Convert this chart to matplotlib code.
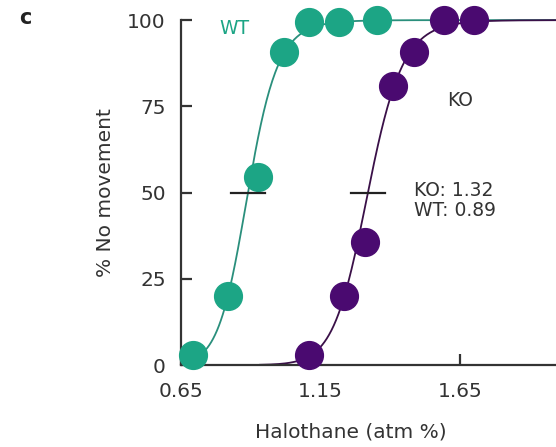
import numpy as np
import matplotlib
matplotlib.use("Agg")
import matplotlib.pyplot as plt

plt.rcParams['font.family'] = ['DejaVu Sans']

# Halothane concentration (atm %) and % of animals with no movement
wt_dose = [0.693, 0.818, 0.925, 1.02, 1.11, 1.218, 1.354]
wt_resp = [3, 20, 54.6, 90.8, 99.5, 99.5, 100]
ko_dose = [1.11, 1.236, 1.31, 1.41, 1.486, 1.593, 1.70]
ko_resp = [3, 20, 35.8, 81, 90.8, 100, 100]

# EC50 values and Hill slopes of the fitted curves
wt_ec50, ko_ec50 = 0.89, 1.32
wt_hill, ko_hill = 16.5, 21.0

x_ticks = [0.65, 1.15, 1.65]
y_ticks = [0, 25, 50, 75, 100]

wt_point = '#1ca585'
wt_line = '#2a8f7c'
ko_point = '#4a0a70'
ko_line = '#3a1048'
text_col = '#333333'
FS = 14.5


def hill(x, ec50, n):
    return 100.0 / (1.0 + (ec50 / x) ** n)


fig = plt.figure(figsize=(5.56, 4.47), dpi=100)
ax = fig.add_axes([0.3255, 0.1834, 1 - 0.3255, 0.955 - 0.1834])
xmax = 0.65 + (556 - 181) / 279
ax.set_xlim(0.65, xmax)
ax.set_ylim(0, 100)

xw = np.linspace(0.68, xmax + 0.05, 400)
xk = np.linspace(0.933, xmax + 0.05, 400)
ax.plot(xw, hill(xw, wt_ec50, wt_hill), color=wt_line, lw=1.3, clip_on=False, zorder=2)
ax.plot(xk, hill(xk, ko_ec50, ko_hill), color=ko_line, lw=1.3, clip_on=False, zorder=2)

ax.plot(wt_dose, wt_resp, 'o', ms=20, color=wt_point, mec=wt_point, clip_on=False, zorder=3)
ax.plot(ko_dose, ko_resp, 'o', ms=20, color=ko_point, mec=ko_point, clip_on=False, zorder=3)

# EC50 markers at 50 %
for ec in (wt_ec50, ko_ec50):
    ax.plot([ec - 0.06, ec + 0.06], [50, 50], color='#222222', lw=1.6, zorder=4)

ax.spines['top'].set_visible(False)
ax.spines['right'].set_visible(False)
for s in ('left', 'bottom'):
    ax.spines[s].set_linewidth(1.6)
    ax.spines[s].set_color('#333333')

ax.set_xticks(x_ticks)
ax.set_xticklabels([f'{t:.2f}' for t in x_ticks])
ax.set_yticks(y_ticks)
ax.tick_params(direction='in', length=8, width=1.6, colors='#333333',
               labelsize=FS, labelcolor=text_col)
ax.tick_params(axis='x', pad=12)
ax.tick_params(axis='y', pad=11)

ax.set_xlabel('Halothane (atm %)', fontsize=FS, color=text_col)
ax.xaxis.set_label_coords(0.453, -0.168)
ax.set_ylabel('% No movement', fontsize=FS, color=text_col)
ax.yaxis.set_label_coords(-0.176, 0.5)

ax.text(0.84, 97.5, 'WT', color=wt_point, fontsize=FS - 1, ha='center', va='center')
ax.text(1.65, 76.8, 'KO', color=text_col, fontsize=FS - 1, ha='center', va='center')
ax.text(1.485, 47.8, 'KO: 1.32\nWT: 0.89', color=text_col, fontsize=FS - 1,
        ha='left', va='center', linespacing=1.05)

fig.text(25 / 556, 1 - 18 / 447, 'c', fontsize=15, fontweight='bold',
         ha='center', va='center', color='#222222')

fig.savefig('out.png', dpi=100)
